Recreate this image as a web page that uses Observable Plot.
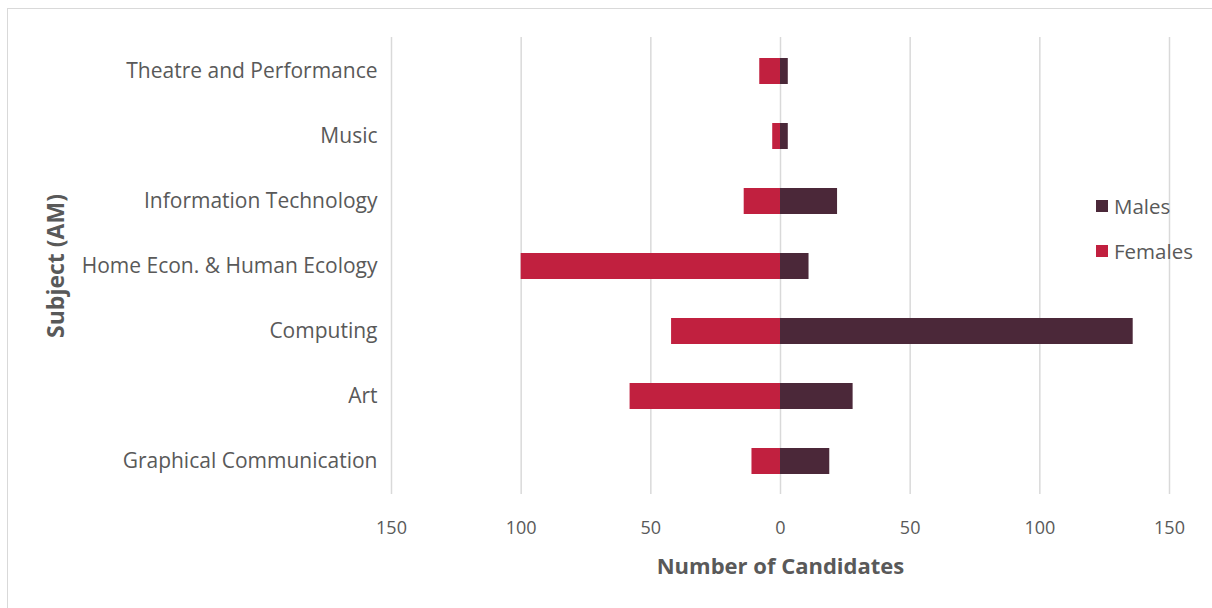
<!DOCTYPE html>
<html>
<head>
<meta charset="utf-8">
<script src="https://cdn.jsdelivr.net/npm/d3@7"></script>
<script src="https://cdn.jsdelivr.net/npm/@observablehq/plot@0.6"></script>
<style>
  html, body { margin: 0; padding: 0; background: #fff; }
  #wrap { position: relative; width: 1212px; height: 608px; overflow: hidden; }
  #border { position: absolute; left: 7px; top: 8px; width: 1220px; height: 620px; border: 1px solid #d9d9d9; box-sizing: border-box; pointer-events: none; }
  #legend { position: absolute; left: 1096px; top: 190px; font-family: "Open Sans", sans-serif; font-size: 20.5px; color: #595959; }
  #legend .item { display: flex; align-items: center; height: 32px; margin-bottom: 13px; }
  #legend .sw { width: 12px; height: 12px; margin-right: 6px; }
</style>
</head>
<body>
<div id="wrap">
  <div id="chart"></div>
  <div id="border"></div>
  <div id="legend"></div>
</div>
<script>
const subjects = ["Theatre and Performance", "Music", "Information Technology", "Home Econ. & Human Ecology", "Computing", "Art", "Graphical Communication"];
const females = [8, 3, 14, 100, 42, 58, 11];
const males = [3, 3, 22, 11, 136, 28, 19];
const seriesNames = ["Males", "Females"];
const seriesColors = ["#4b2839", "#c1203f"];
const xTicks = [-150, -100, -50, 0, 50, 100, 150];

const rows = subjects.flatMap((s, i) => [
  {subject: s, series: "Females", x1: 0, x2: -females[i]},
  {subject: s, series: "Males", x1: 0, x2: males[i]}
]);

const chart = Plot.plot({
  width: 1212,
  height: 608,
  marginLeft: 391,
  marginRight: 43,
  marginTop: 37,
  marginBottom: 114,
  style: {fontFamily: "'Open Sans', sans-serif", color: "#595959", background: "transparent"},
  x: {domain: [-150, 150]},
  y: {domain: subjects, paddingInner: 0.6, paddingOuter: 0.3},
  color: {domain: seriesNames, range: seriesColors},
  marks: [
    Plot.gridX(xTicks, {stroke: "#d9d9d9", strokeOpacity: 1, strokeWidth: 1.5}),
    Plot.barX(rows, {y: "subject", x1: "x1", x2: "x2", fill: "series"}),
    Plot.axisX({
      ticks: xTicks, tickSize: 0, tickPadding: 27,
      tickFormat: d => Math.abs(d),
      fontSize: 18, fill: "#595959",
      label: "Number of Candidates", labelAnchor: "center", labelArrow: "none", labelOffset: 79
    }),
    Plot.axisY({
      tickSize: 0, tickPadding: 14, fontSize: 21, fill: "#595959",
      label: "Subject (AM)", labelAnchor: "center", labelArrow: "none", labelOffset: 344
    })
  ]
});

chart.querySelectorAll("g[aria-label='x-axis label'] text").forEach(t => {
  t.setAttribute("font-weight", "bold");
  t.setAttribute("font-size", "22");
});
chart.querySelectorAll("g[aria-label='y-axis label'] text").forEach(t => {
  t.setAttribute("font-weight", "bold");
  t.setAttribute("font-size", "23");
});
document.getElementById("chart").appendChild(chart);

const legend = document.getElementById("legend");
seriesNames.forEach((n, i) => {
  const item = document.createElement("div");
  item.className = "item";
  item.innerHTML = `<span class="sw" style="background:${seriesColors[i]}"></span><span>${n}</span>`;
  legend.appendChild(item);
});
</script>
</body>
</html>
